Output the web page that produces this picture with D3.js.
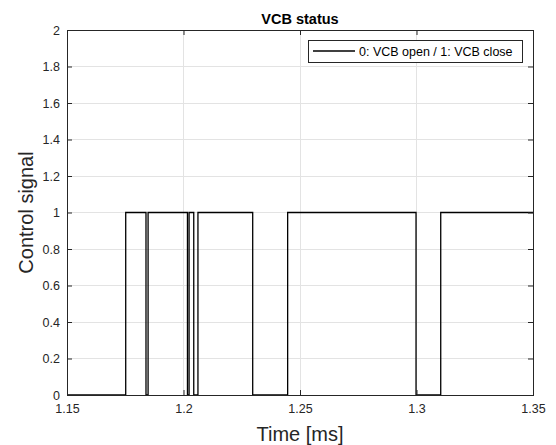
<!DOCTYPE html>
<html>
<head>
<meta charset="utf-8">
<script src="https://cdnjs.cloudflare.com/ajax/libs/d3/7.8.5/d3.min.js"></script>
<style>
  html, body { margin: 0; padding: 0; background: #fff; }
  svg { display: block; font-family: "Liberation Sans", Arial, sans-serif; }
</style>
</head>
<body>
<div id="chart"></div>
<script>
// switching instants [ms] and the signal level that starts there
var times   = [1.15, 1.1752, 1.1839, 1.1848, 1.2017, 1.2024, 1.2044, 1.2062, 1.2297, 1.2447, 1.2998, 1.3104, 1.35];
var signal  = [0,    1,      0,      1,      0,      1,      0,      1,      0,      1,      0,      1,      1];
var xTicks  = [1.15, 1.2, 1.25, 1.3, 1.35];
var yTicks  = [0, 0.2, 0.4, 0.6, 0.8, 1, 1.2, 1.4, 1.6, 1.8, 2];
var titleText  = "VCB status";
var xLabelText = "Time [ms]";
var yLabelText = "Control signal";
var legendText = "0: VCB open / 1: VCB close";

var width = 556, height = 445;
var margin = { left: 67, right: 23, top: 30, bottom: 50 };
var textColor = "#262626";

var svg = d3.select("#chart").append("svg")
    .attr("width", width)
    .attr("height", height);

var x = d3.scaleLinear().domain([1.15, 1.35]).range([margin.left, width - margin.right]);
var y = d3.scaleLinear().domain([0, 2]).range([height - margin.bottom, margin.top]);

var fmt = function (d) { return String(+d.toFixed(2)); };

// grid
var grid = svg.append("g").attr("class", "grid")
    .attr("stroke", "#e3e3e3").attr("stroke-width", 1).attr("shape-rendering", "crispEdges");
grid.selectAll("line.gx").data(xTicks).enter().append("line")
    .attr("x1", function (d) { return x(d); }).attr("x2", function (d) { return x(d); })
    .attr("y1", y(0)).attr("y2", y(2));
grid.selectAll("line.gy").data(yTicks).enter().append("line")
    .attr("y1", function (d) { return y(d); }).attr("y2", function (d) { return y(d); })
    .attr("x1", x(1.15)).attr("x2", x(1.35));

// signal
var data = times.map(function (t, i) { return { t: t, v: signal[i] }; });
var line = d3.line()
    .x(function (d) { return x(d.t); })
    .y(function (d) { return y(d.v); })
    .curve(d3.curveStepAfter);

svg.append("path")
    .datum(data)
    .attr("fill", "none")
    .attr("stroke", "#000")
    .attr("stroke-width", 1.3)
    .attr("d", line);

// axes, ticks inward on all four sides
var tickLen = 5;
var xAxisB = d3.axisBottom(x).tickValues(xTicks).tickFormat(fmt).tickSizeInner(-tickLen).tickSizeOuter(0).tickPadding(9);
var xAxisT = d3.axisTop(x).tickValues(xTicks).tickFormat("").tickSizeInner(-tickLen).tickSizeOuter(0);
var yAxisL = d3.axisLeft(y).tickValues(yTicks).tickFormat(fmt).tickSizeInner(-tickLen).tickSizeOuter(0).tickPadding(7);
var yAxisR = d3.axisRight(y).tickValues(yTicks).tickFormat("").tickSizeInner(-tickLen).tickSizeOuter(0);

function styleAxis(g) {
  g.selectAll("path, line").attr("stroke", textColor);
  g.selectAll("text").attr("fill", textColor).style("font-size", "12.5px");
}

svg.append("g").attr("transform", "translate(0," + y(0) + ")").call(xAxisB).call(styleAxis);
svg.append("g").attr("transform", "translate(0," + y(2) + ")").call(xAxisT).call(styleAxis);
svg.append("g").attr("transform", "translate(" + x(1.15) + ",0)").call(yAxisL).call(styleAxis);
svg.append("g").attr("transform", "translate(" + x(1.35) + ",0)").call(yAxisR).call(styleAxis);

// box
svg.append("rect")
    .attr("x", x(1.15)).attr("y", y(2))
    .attr("width", x(1.35) - x(1.15)).attr("height", y(0) - y(2))
    .attr("fill", "none").attr("stroke", textColor).attr("stroke-width", 1)
    .attr("shape-rendering", "crispEdges");

// labels
svg.append("text")
    .attr("x", (x(1.15) + x(1.35)) / 2).attr("y", 24)
    .attr("text-anchor", "middle").attr("fill", "#000")
    .style("font-size", "14.5px").style("font-weight", "bold")
    .text(titleText);

svg.append("text")
    .attr("x", (x(1.15) + x(1.35)) / 2).attr("y", 441)
    .attr("text-anchor", "middle").attr("fill", textColor)
    .style("font-size", "20px")
    .text(xLabelText);

svg.append("text")
    .attr("transform", "translate(33," + y(1) + ") rotate(-90)")
    .attr("text-anchor", "middle").attr("fill", textColor)
    .style("font-size", "20px")
    .text(yLabelText);

// legend
var legend = svg.append("g").attr("transform", "translate(308,40)");
legend.append("rect")
    .attr("width", 214).attr("height", 22)
    .attr("fill", "#fff").attr("stroke", textColor).attr("stroke-width", 1)
    .attr("shape-rendering", "crispEdges");
legend.append("line")
    .attr("x1", 5).attr("x2", 47).attr("y1", 11).attr("y2", 11)
    .attr("stroke", "#000").attr("stroke-width", 1.3);
legend.append("text")
    .attr("x", 51).attr("y", 15.5)
    .attr("fill", "#000").style("font-size", "12.5px")
    .text(legendText);
</script>
</body>
</html>
